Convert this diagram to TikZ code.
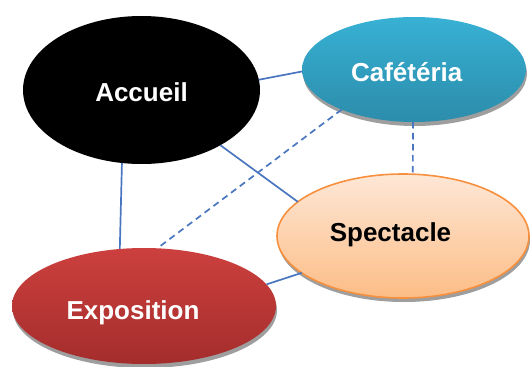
\documentclass[tikz,border=0pt]{standalone}
\usepackage{fontspec}
\setmainfont{Liberation Sans}
\usetikzlibrary{shadows,shapes.geometric}
\definecolor{linkblue}{HTML}{4A76C0}
\definecolor{cafTop}{HTML}{37B1D4}
\definecolor{cafBot}{HTML}{2C8CAB}
\definecolor{expTop}{HTML}{CC403E}
\definecolor{expBot}{HTML}{A42D2C}
\definecolor{speTop}{HTML}{FEE7D6}
\definecolor{speBot}{HTML}{FCBD86}
\definecolor{speLine}{HTML}{F7903E}
\begin{document}
\begin{tikzpicture}[x=1pt,y=-1pt,
  bubble/.style={ellipse, inner sep=0pt, outer sep=0pt},
  shad/.style={drop shadow={shadow xshift=1pt, shadow yshift=-4pt, fill=black!38, opacity=1}},
  lbl/.style={font=\fontsize{26}{30}\selectfont\bfseries, inner sep=0pt, anchor=base},
  link/.style={draw=linkblue, line width=1.7pt},
  dlink/.style={link, dash pattern=on 6.5pt off 4.5pt}]
\useasboundingbox (0,0) rectangle (531,367);
% ellipses
\node[bubble, fill=black, minimum width=237pt, minimum height=148pt] (acc) at (141.5,90) {};
\node[bubble, shad, top color=cafTop, bottom color=cafBot, minimum width=224pt, minimum height=105pt] (caf) at (414,69.5) {};
\node[bubble, shad, top color=speTop, bottom color=speBot, draw=speLine, line width=1.6pt, minimum width=252pt, minimum height=124pt] (spe) at (403,236) {};
\node[bubble, shad, top color=expTop, bottom color=expBot, minimum width=264pt, minimum height=116pt] (exp) at (144,306) {};
% texts
\node[lbl, text=white] (accT) at (141.5,101.7) {Accueil};
\node[lbl, text=white] (cafT) at (406.7,81) {Cafétéria};
\node[lbl, text=black] (speT) at (390.5,241.7) {Spectacle};
\node[lbl, text=white] (expT) at (133,319) {Exposition};
% connectors
\draw[link] (acc.5) -- (caf.181);
\draw[link] (acc.-35) -- (spe.162);
\draw[link] (acc.-105) -- (exp.113);
\draw[dlink] (caf.209) -- (exp.77);
\draw[dlink] (caf.-91) -- (spe.81);
\draw[link] (exp.10) -- (spe.200);
\end{tikzpicture}
\end{document}
